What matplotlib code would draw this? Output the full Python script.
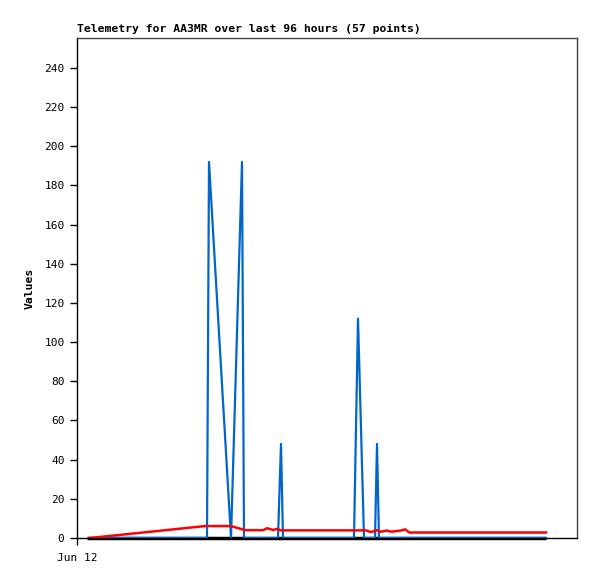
import matplotlib
matplotlib.use("Agg")
import matplotlib.pyplot as plt

# Dane (czas w godzinach od lewej krawędzi osi, Jun 12)
tytul = "Telemetry for AA3MR over last 96 hours (57 points)"
etykieta_x = ["Jun 12"]
pozycje_x = [0]
wartosci_y_ticks = list(range(0, 241, 20))

# Seria niebieska
czas_niebieski = [2.73, 27.3, 27.72, 32.34, 34.65, 35.07, 42.21, 42.84, 43.26,
                  58.17, 59.01, 60.27, 62.58, 63.0, 63.42, 98.49]
wart_niebieski = [0, 0, 192, 0, 192, 0, 0, 48, 0,
                  0, 112, 0, 0, 48, 0, 0]

# Seria czerwona
czas_czerwony = [2.73, 26.9, 32.3, 33.6, 35.3, 39.1, 39.9, 41.2, 42.0, 42.8,
                 60.7, 61.7, 63.0, 63.8, 65.1, 66.0, 68.0, 68.9, 69.8, 98.49]
wart_czerwony = [0, 6.1, 6.1, 5.2, 4.0, 4.0, 5.0, 4.1, 4.6, 3.9,
                 3.9, 3.0, 4.0, 3.2, 3.8, 3.2, 3.8, 4.4, 2.8, 2.8]

# Seria czarna (stale zero)
czas_czarny = [2.2, 98.49]
wart_czarny = [0, 0]

fig = plt.figure(figsize=(5.97, 5.79), dpi=100)
ax = fig.add_axes([77 / 597, 41 / 579, 500 / 597, 500 / 579])

ax.plot(czas_czarny, wart_czarny, color="black", lw=2.5, solid_capstyle="butt",
        zorder=2.6, clip_on=False)
ax.plot(czas_niebieski, wart_niebieski, color="#0066cc", lw=1.6, zorder=3)
ax.plot(czas_czerwony, wart_czerwony, color="#ff0000", lw=1.8, zorder=4)

ax.set_xlim(0, 105)
ax.set_ylim(0, 255.3)

mono = "DejaVu Sans Mono"
ax.set_yticks(wartosci_y_ticks)
ax.set_yticklabels([str(v) for v in wartosci_y_ticks], fontfamily=mono, fontsize=8)
ax.set_xticks(pozycje_x)
ax.set_xticklabels(etykieta_x, fontfamily=mono, fontsize=8)
ax.tick_params(axis="both", direction="out", length=5, width=1, color="black", pad=4)
ax.tick_params(axis="x", pad=6)

ax.set_ylabel("Values", fontfamily=mono, fontsize=8.2, fontweight="bold", labelpad=7)
ax.set_title(tytul, fontfamily=mono, fontsize=8.2, fontweight="bold", loc="left", pad=4)

ax.spines["left"].set_color("black")
ax.spines["bottom"].set_color("black")
ax.spines["top"].set_color("#444444")
ax.spines["right"].set_color("#444444")
for s in ax.spines.values():
    s.set_linewidth(1)

fig.savefig("out.png", dpi=100)
